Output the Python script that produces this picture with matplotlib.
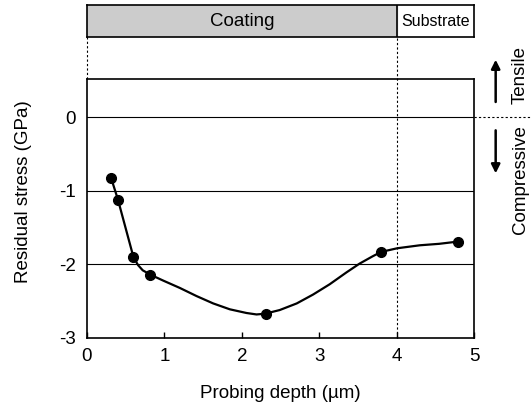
import matplotlib.pyplot as plt

plt.rcParams['font.family'] = ['Liberation Sans', 'DejaVu Sans']

# measured points
depth = [0.31, 0.40, 0.60, 0.82, 2.31, 3.80, 4.79]
stress = [-0.82, -1.12, -1.90, -2.14, -2.67, -1.83, -1.69]

# fitted curve
curve_x = [0.31, 0.40, 0.60, 0.66, 0.72, 0.82, 0.985, 1.20, 1.415, 1.63, 1.845,
           2.06, 2.19, 2.30, 2.49, 2.71, 2.92, 3.135, 3.35, 3.52, 3.69, 3.80,
           4.01, 4.30, 4.55, 4.79]
curve_y = [-0.82, -1.12, -1.90, -2.01, -2.08, -2.14, -2.22, -2.32, -2.43, -2.53, -2.61,
           -2.66, -2.68, -2.67, -2.62, -2.53, -2.41, -2.27, -2.11, -1.99, -1.89, -1.83,
           -1.78, -1.74, -1.72, -1.69]

x_ticks = [0, 1, 2, 3, 4, 5]
y_ticks = [0, -1, -2, -3]
coating_end = 4

fig = plt.figure(figsize=(5.31, 4.08), dpi=100)
ax = fig.add_axes([87/531, 70/408, 387/531, 259/408])
top = fig.add_axes([87/531, 371/408, 387/531, 32/408])

# main plot
for yv in [0, -1, -2]:
    ax.axhline(yv, color='black', lw=0.8, zorder=1)
ax.plot(curve_x, curve_y, color='black', lw=1.6, zorder=2)
ax.plot(depth, stress, 'o', color='black', ms=7, zorder=3)

ax.set_xlim(0, 5)
ax.set_ylim(-3, 0.52)
ax.set_xticks(x_ticks)
ax.set_xticklabels([str(t) for t in x_ticks])
ax.set_yticks(y_ticks)
ax.set_yticklabels(['0', '-1', '-2', '-3'])
ax.tick_params(axis='x', direction='in', length=4, width=1, labelsize=13.5, pad=7)
ax.tick_params(axis='y', length=0, labelsize=13.5, pad=8)
for s in ax.spines.values():
    s.set_linewidth(1.2)
ax.set_xlabel('Probing depth (\u00b5m)', fontsize=13.5)
ax.set_ylabel('Residual stress (GPa)', fontsize=13.5)
ax.xaxis.set_label_coords(0.5, -0.216)
ax.yaxis.set_label_coords(-0.163, 0.564)
ax.xaxis.label.set_va('center')
ax.yaxis.label.set_va('center')

# dotted guides
trans = ax.get_xaxis_transform()
ax.plot([coating_end, coating_end], [0, 1.165], transform=trans, color='black',
        lw=0.8, ls=(0, (2, 2)), clip_on=False)
ax.plot([0, 0], [1, 1.165], transform=trans, color='black',
        lw=0.8, ls=(0, (2, 2)), clip_on=False)
ax.plot([5, 5.74], [0, 0], color='black', lw=0.8, ls=(0, (2, 2)), clip_on=False)

# tensile / compressive arrows
ax.annotate('', xy=(5.28, 0.82), xytext=(5.28, 0.17), annotation_clip=False,
            arrowprops=dict(arrowstyle='-|>', lw=1.8, color='black', mutation_scale=13))
ax.annotate('', xy=(5.28, -0.80), xytext=(5.28, -0.14), annotation_clip=False,
            arrowprops=dict(arrowstyle='-|>', lw=1.8, color='black', mutation_scale=13))
ax.text(5.6, 0.57, 'Tensile', rotation=90, ha='center', va='center', fontsize=13.5,
        clip_on=False)
ax.text(5.6, -0.84, 'Compressive', rotation=90, ha='center', va='center', fontsize=13.5,
        clip_on=False)

# layer banner
top.set_xlim(0, 5)
top.set_ylim(0, 1)
top.axvspan(0, coating_end, color='#cccccc')
top.axvline(coating_end, color='black', lw=1.2)
top.text(coating_end / 2, 0.5, 'Coating', ha='center', va='center', fontsize=13.5)
top.text((coating_end + 5) / 2, 0.5, 'Substrate', ha='center', va='center', fontsize=11.5)
top.set_xticks([])
top.set_yticks([])
for s in top.spines.values():
    s.set_linewidth(1.2)

fig.savefig('out.png', dpi=100)
